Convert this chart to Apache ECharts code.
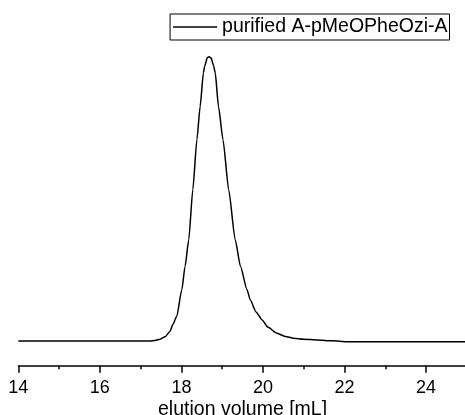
<!DOCTYPE html>
<html><head><meta charset="utf-8">
<script src="https://cdn.jsdelivr.net/npm/echarts@6/dist/echarts.min.js"></script>
<style>html,body{margin:0;padding:0;background:#fff}#c{width:465px;height:415px}</style>
</head><body><div id="c"></div>
<script>
const seriesName = 'purified A-pMeOPheOzi-A';
const volume = [14, 16, 17.23, 17.35, 17.48, 17.60, 17.72, 17.79, 17.885, 18.01, 18.09, 18.18, 18.28, 18.38, 18.46, 18.54, 18.57, 18.635, 18.68, 18.73, 18.79, 18.83, 18.91, 19.02, 19.16, 19.32, 19.45, 19.61, 19.69, 19.83, 19.98, 20.12, 20.33, 20.55, 20.75, 21.0, 21.33, 21.7, 22.06, 23, 24, 25];
const signal = [0, 0, 0, 0.002, 0.006, 0.015, 0.033, 0.058, 0.086, 0.180, 0.262, 0.356, 0.532, 0.708, 0.825, 0.943, 0.965, 0.996, 1.0, 0.995, 0.968, 0.943, 0.825, 0.708, 0.532, 0.356, 0.262, 0.180, 0.144, 0.102, 0.074, 0.049, 0.028, 0.016, 0.0095, 0.006, 0.0035, 0.0005, -0.0025, -0.0025, -0.0025, -0.0025];
const xTicks = [14, 16, 18, 20, 22, 24];
const xTitle = 'elution volume [mL]';

const FONT = 'Liberation Sans, Arial, sans-serif';
const data = volume.map((v, i) => [v, signal[i]]);
const chart = echarts.init(document.getElementById('c'), null, {renderer: 'canvas'});
chart.setOption({
  animation: false,
  backgroundColor: '#fff',
  textStyle: {fontFamily: FONT},
  grid: {left: 18.3, top: 28.2, width: 448.5, height: 337.5, containLabel: false, outerBoundsMode: 'none'},
  legend: {
    data: [seriesName],
    right: 15.5, top: 14,
    borderColor: '#000', borderWidth: 1, borderRadius: 0,
    padding: [3, 2, 3, 3],
    icon: 'rect', itemWidth: 44, itemHeight: 1.5, itemGap: 4,
    textStyle: {color: '#000', fontSize: 19.5, fontFamily: FONT}
  },
  xAxis: {
    type: 'value', min: 14, max: 25, interval: 2,
    name: xTitle, nameLocation: 'middle', nameGap: 34, nameMoveOverlap: false,
    nameTextStyle: {color: '#000', fontSize: 19.5, fontFamily: FONT, verticalAlign: 'top'},
    axisLine: {show: true, onZero: false, lineStyle: {color: '#000', width: 1.5}},
    axisTick: {show: true, inside: false, length: 7, lineStyle: {color: '#000', width: 1.5}},
    minorTick: {show: true, splitNumber: 2, length: 3.5, lineStyle: {color: '#000', width: 1.5}},
    splitLine: {show: false},
    axisLabel: {color: '#000', fontSize: 18, margin: 13, fontFamily: FONT,
      formatter: v => xTicks.includes(v) ? String(v) : ''}
  },
  yAxis: {type: 'value', min: -0.087, max: 1.1, show: false, splitLine: {show: false}},
  series: [{
    name: seriesName, type: 'line', data: data, symbol: 'none', showSymbol: false,
    smooth: 0.2, smoothMonotone: 'x',
    lineStyle: {color: '#000', width: 1.5}, itemStyle: {color: '#000'}
  }]
});
</script></body></html>
